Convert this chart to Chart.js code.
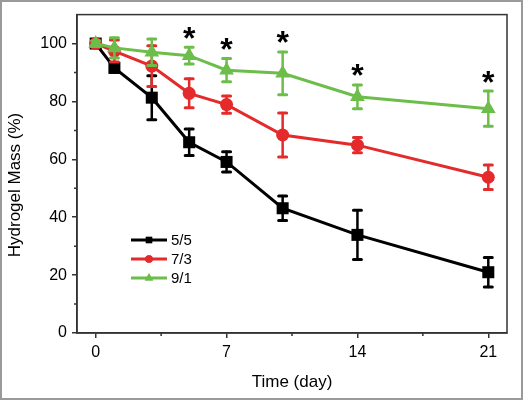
<!DOCTYPE html>
<html>
<head>
<meta charset="utf-8">
<script src="https://cdn.jsdelivr.net/npm/chart.js@4/dist/chart.umd.min.js"></script>
<style>
html,body{margin:0;padding:0;background:#fff;}
canvas{display:block;}
</style>
</head>
<body>
<canvas id="c" width="525" height="401"></canvas>
<script>
// ---- data ----
const days = [0, 1, 3, 5, 7, 10, 14, 21];
const seriesLabels = ['5/5', '7/3', '9/1'];
const mass55 = [100, 91.6, 81.3, 65.9, 59.1, 43.1, 33.9, 21.0];
const err55  = [1.0, 1.5, 7.6, 4.6, 3.5, 4.2, 8.5, 5.1];
const mass73 = [100, 97.4, 92.2, 82.8, 78.9, 68.4, 64.9, 53.8];
const err73  = [1.0, 3.8, 7.0, 5.0, 3.0, 7.6, 2.6, 4.2];
const mass91 = [100, 98.5, 97.0, 95.8, 90.8, 89.7, 81.6, 77.5];
const err91  = [1.0, 3.5, 4.6, 2.9, 4.0, 7.4, 4.1, 6.1];
const sigDays = [5, 7, 10, 14, 21];
const xTicks = [0, 7, 14, 21];
const xMinorTicks = [3.5, 10.5, 17.5];
const yTicks = [0, 20, 40, 60, 80, 100];
const yMinorTicks = [10, 30, 50, 70, 90];
const xTitle = 'Time (day)';
const yTitle = 'Hydrogel Mass (%)';

const FONT = '"Liberation Sans", Arial, Helvetica, sans-serif';
const colors = ['#000000', '#e42a2a', '#6dbd4b'];
const styles = ['rect', 'circle', 'triangle'];
const radii = [8.5, 6.5, 8.5];
const legendRadii = [4.5, 3.8, 4.8];
const errorSets = [err55, err73, err91];
const valueSets = [mass55, mass73, mass91];

function pts(vals){ return days.map((d,i)=>({x:d, y:vals[i]})); }

const datasets = valueSets.map((vals, k) => ({
  label: seriesLabels[k],
  data: pts(vals),
  borderColor: colors[k],
  backgroundColor: colors[k],
  pointBackgroundColor: colors[k],
  pointBorderColor: colors[k],
  pointBorderWidth: 0,
  pointStyle: styles[k],
  pointRadius: radii[k],
  pointHoverRadius: radii[k],
  borderWidth: 3,
  tension: 0,
  fill: false,
  order: 2 - k,
  clip: false
}));

const custom = {
  id: 'custom',
  beforeDraw(chart){
    const ctx = chart.ctx;
    ctx.save();
    ctx.fillStyle = '#fff';
    ctx.fillRect(0,0,chart.width,chart.height);
    ctx.restore();
  },
  beforeDatasetDraw(chart, args){
    const k = args.index;
    const xs = chart.scales.x, ys = chart.scales.y;
    const ctx = chart.ctx;
    const vals = valueSets[k], errs = errorSets[k];
    ctx.save();
    ctx.strokeStyle = colors[k];
    ctx.lineCap = 'round';
    for (let i = 0; i < days.length; i++) {
      const px = xs.getPixelForValue(days[i]);
      const top = ys.getPixelForValue(vals[i] + errs[i]);
      const bot = ys.getPixelForValue(vals[i] - errs[i]);
      ctx.lineWidth = 2.5;
      ctx.beginPath();
      ctx.moveTo(px, top); ctx.lineTo(px, bot);
      ctx.stroke();
      ctx.lineWidth = 3;
      ctx.beginPath();
      ctx.moveTo(px - 4, top); ctx.lineTo(px + 4, top);
      ctx.moveTo(px - 4, bot); ctx.lineTo(px + 4, bot);
      ctx.stroke();
    }
    ctx.restore();
  },
  afterDraw(chart){
    const ctx = chart.ctx;
    const a = chart.chartArea;
    const xs = chart.scales.x, ys = chart.scales.y;
    ctx.save();
    // plot box
    ctx.strokeStyle = '#333';
    ctx.lineWidth = 1.5;
    ctx.strokeRect(a.left, a.top, a.right - a.left, a.bottom - a.top);
    // minor ticks
    ctx.beginPath();
    xMinorTicks.forEach(v => { const p = xs.getPixelForValue(v); ctx.moveTo(p, a.bottom); ctx.lineTo(p, a.bottom + 3); });
    yMinorTicks.forEach(v => { const p = ys.getPixelForValue(v); ctx.moveTo(a.left, p); ctx.lineTo(a.left - 3, p); });
    ctx.stroke();
    // axis titles
    ctx.fillStyle = '#000';
    ctx.font = '17px ' + FONT;
    ctx.textAlign = 'center';
    ctx.textBaseline = 'middle';
    ctx.fillText(xTitle, (a.left + a.right) / 2, 382);
    ctx.save();
    ctx.translate(15, 185);
    ctx.rotate(-Math.PI / 2);
    ctx.fillText(yTitle, 0, 0);
    ctx.restore();
    // legend
    const lx0 = 131, lx1 = 167, ly0 = 240, lstep = 19;
    chart.data.datasets.forEach((ds, k) => {
      const y = ly0 + k * lstep;
      ctx.strokeStyle = colors[k];
      ctx.lineWidth = 3;
      ctx.beginPath(); ctx.moveTo(lx0, y); ctx.lineTo(lx1, y); ctx.stroke();
      ctx.fillStyle = colors[k];
      Chart.helpers.drawPoint(ctx, {pointStyle: styles[k], radius: legendRadii[k], borderWidth: 0, rotation: 0}, (lx0 + lx1) / 2, y);
      ctx.fill();
      ctx.fillStyle = '#000';
      ctx.font = '15px ' + FONT;
      ctx.textAlign = 'left';
      ctx.textBaseline = 'middle';
      ctx.fillText(ds.label, lx1 + 4, y + 1);
    });
    // significance asterisks
    ctx.font = 'bold 32px ' + FONT;
    ctx.textAlign = 'center';
    ctx.textBaseline = 'alphabetic';
    const m = ctx.measureText('*');
    const glyphMid = (m.actualBoundingBoxAscent - m.actualBoundingBoxDescent) / 2;
    sigDays.forEach(d => {
      const i = days.indexOf(d);
      const px = xs.getPixelForValue(d);
      const topPx = ys.getPixelForValue(mass91[i] + err91[i]);
      const cy = topPx - 14.5;
      ctx.fillText('*', px, cy + glyphMid);
    });
    // outer frame
    ctx.strokeStyle = '#9a9a9a';
    ctx.lineWidth = 2;
    ctx.strokeRect(1, 1, 521, 398);
    ctx.restore();
  }
};

new Chart(document.getElementById('c'), {
  type: 'line',
  data: { datasets },
  options: {
    responsive: false,
    animation: false,
    events: [],
    layout: { padding: { top: 13, right: 18, left: 0, bottom: 0 } },
    plugins: { legend: { display: false }, tooltip: { enabled: false } },
    scales: {
      x: {
        type: 'linear', min: -1, max: 22,
        afterBuildTicks: s => { s.ticks = xTicks.map(v => ({value: v})); },
        afterFit: s => { s.height = 68; },
        grid: { drawOnChartArea: false, tickLength: 5, color: '#333', lineWidth: 1.5 },
        border: { display: true, color: '#333', width: 1.5 },
        ticks: { color: '#000', font: { size: 16, family: FONT }, padding: 5, maxRotation: 0 }
      },
      y: {
        type: 'linear', min: 0, max: 110,
        afterBuildTicks: s => { s.ticks = yTicks.map(v => ({value: v})); },
        afterFit: s => { s.width = 77; },
        grid: { drawOnChartArea: false, tickLength: 5, color: '#333', lineWidth: 1.5 },
        border: { display: true, color: '#333', width: 1.5 },
        ticks: { color: '#000', font: { size: 16, family: FONT }, padding: 5 }
      }
    }
  },
  plugins: [custom]
});
</script>
</body>
</html>
